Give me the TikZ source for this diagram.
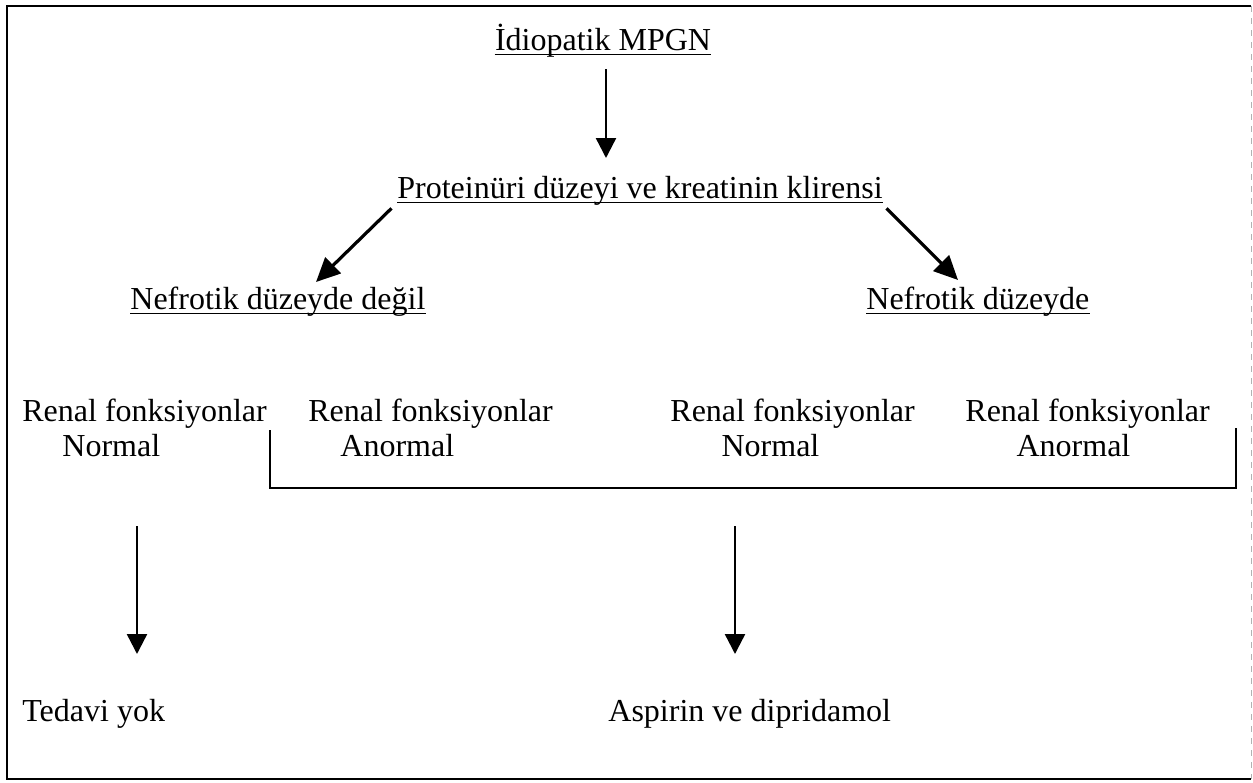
\documentclass[tikz,border=0pt]{standalone}
\usepackage{fontspec}
\setmainfont{Liberation Serif}
\usetikzlibrary{arrows.meta,positioning,calc}

\begin{document}
\begin{tikzpicture}[x=0.5pt,y=-0.5pt]
	\tikzstyle{lbl} = [font=\fontsize{16}{17.5}\selectfont, inner sep=0pt, align=left]
	\tikzstyle{arr} = [-{Triangle[width=10pt,length=10pt]}, line width=1.2pt]
	\tikzstyle{diag} = [-{Triangle[width=11pt,length=12pt]}, line width=1.6pt]
	\tikzstyle{frame} = [line width=1.1pt]
	\tikzstyle{uline} = [line width=0.7pt]

	\useasboundingbox (0,0) rectangle (1253,782);

	% frame
	\draw[frame] (1251,6) -- (7,6) -- (7,779) -- (1251,779);
	\draw[gray!60, dashed, line width=0.4pt] (1251,6) -- (1251,779);

	% levels
	\node[lbl, anchor=base] (idio) at (603,50) {İdiopatik MPGN};
	\node[lbl, anchor=base] (prot) at (640,198) {Proteinüri düzeyi ve kreatinin klirensi};
	\node[lbl, anchor=base west] (nondeg) at (130,309) {Nefrotik düzeyde değil};
	\node[lbl, anchor=base west] (nef) at (866,309) {Nefrotik düzeyde};
	\foreach \n in {idio,prot,nondeg,nef}
		\draw[uline] ([yshift=-2.2pt]\n.base west) -- ([yshift=-2.2pt]\n.base east);

	% renal columns (base = second line)
	\node[lbl, anchor=base west] (rn1) at (22,456) {Renal fonksiyonlar\\\hspace*{1.25em}Normal};
	\node[lbl, anchor=base west] (ra1) at (308,456) {Renal fonksiyonlar\\\hspace*{1em}Anormal};
	\node[lbl, anchor=base west] (rn2) at (670,456) {Renal fonksiyonlar\\\hspace*{1.6em}Normal};
	\node[lbl, anchor=base west] (ra2) at (965,456) {Renal fonksiyonlar\\\hspace*{1.6em}Anormal};

	% outcomes
	\node[lbl, anchor=base west] (yok) at (22,721) {Tedavi yok};
	\node[lbl, anchor=base west] (asp) at (608,721) {Aspirin ve dipridamol};

	% bracket under the three columns
	\coordinate (brl) at (270,430);
	\coordinate (brr) at (1236,428);
	\coordinate (brb) at (1236,488);
	\draw[line width=0.9pt] (brl) |- (brb) -- (brr);

	% arrow ends
	\coordinate (t0) at (606,158);
	\coordinate (tl) at (316,282);
	\coordinate (tr) at (958,280);
	\coordinate (c1) at (137,526);
	\coordinate (c2) at (735,526);
	\coordinate (t1) at (137,654);
	\coordinate (t2) at (735,654);

	% arrows
	\draw[arr] (idio.south -| t0) ++(0,-6pt) -- (t0);
	\draw[diag] ([shift={(-2.75pt,-1.5pt)}]prot.south west) -- (tl);
	\draw[diag] ([shift={(1.75pt,-1.5pt)}]prot.south east) -- (tr);
	\draw[arr] (c1) -- (t1);
	\draw[arr] (c2) -- (t2);
\end{tikzpicture}
\end{document}
